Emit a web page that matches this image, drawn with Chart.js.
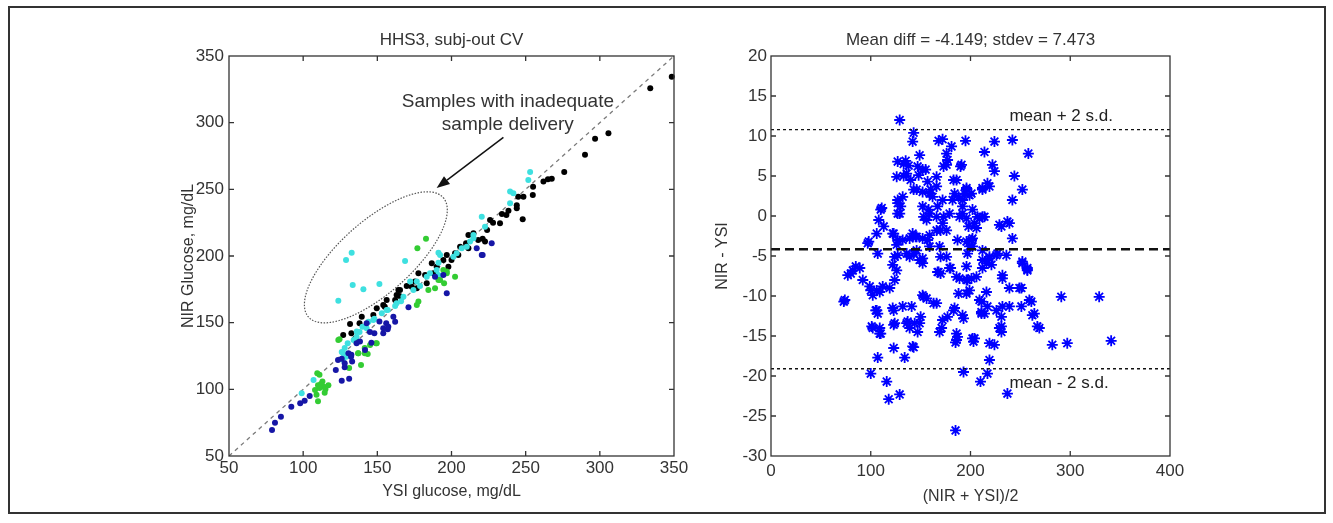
<!DOCTYPE html>
<html>
<head>
<meta charset="utf-8">
<script src="https://cdn.jsdelivr.net/npm/chart.js@4.4.1/dist/chart.umd.min.js"></script>
<style>
html,body{margin:0;padding:0;background:#fff;}
#wrap{position:relative;width:1333px;height:523px;overflow:hidden;background:#fff;}
#frame{position:absolute;left:8px;top:6px;width:1318px;height:508px;border:2px solid #333;box-sizing:border-box;}
#c1{position:absolute;left:0;top:0;}
#c2{position:absolute;left:700px;top:0;}
</style>
</head>
<body>
<div id="wrap">
<div id="frame"></div>
<canvas id="c1" width="700" height="523"></canvas>
<canvas id="c2" width="633" height="523"></canvas>
</div>
<script>
// ---------------- DATA ----------------
// Left panel: NIR glucose vs YSI glucose (mg/dL), one array per subject colour
const leftTitle = 'HHS3, subj-out CV';
const leftXLabel = 'YSI glucose, mg/dL';
const leftYLabel = 'NIR Glucose, mg/dL';
const leftRange = [50, 350];
const leftStep = 50;
const identityLine = [[50, 50], [350, 350]];

const blackPts = [
  [348.5,334.5],[334,325.8],[305.8,292],[296.8,288],[290,276],[276,263],[267.6,258],[265,257.5],[262,255.8],
  [255,252],[254.8,245.8],[245,244.5],[244,235.8],[248,227.5],[238.4,234],[237,230.8],[234,231.5],[232.7,224.5],
  [228,225],[226,227],[224,219.5],[221,213],[222.6,210.8],[218,212],[214.8,217],[211.4,215.8],[209.8,209.5],
  [211.4,205.8],[204.6,200.8],[205.8,207],[202.4,202],[196.8,200.8],[200,197],[194.5,197],[197.9,192],[190,192],
  [186.7,194.5],[187.8,187],[177.7,187],[183.3,179.5],[175.4,180.8],[173.2,177],[165.3,174.5],
  [131.6,149],[127,140.8],[139.5,154.5],[147.3,155.8],[149.6,160.8],[154,163.3],[156.3,167],[163,170.8],
  [164.2,174.5],[169.8,177.5],[176.6,175.8],[182.2,185.8],[138,149.5],[132.5,142],[135,138],[155,162],
  [165,170],[162,167],[248.5,244.5],[244,238]
];
const cyanPts = [
  [253,263],[251.8,257],[239.5,248.3],[241.7,247],[239.5,239.5],[220.4,229.5],[222.6,222],[214.8,215.8],
  [212.5,210.8],[206.9,205.8],[203.5,202],[192.3,200.8],[191.2,195],[190,189.5],[185.5,187],[183.3,184.5],
  [191.2,185.8],[176.6,180.8],[172.1,180.8],
  [132.7,202.5],[128.9,197],[168.7,196.3],[133.4,178.3],[140.6,175],[151.4,179],[123.7,166.5],
  [136.1,143.3],[142.8,145.8],[147.3,152],[156.3,159.5],[163,164.5],[167.6,169.5],[174.3,174.5],[178.8,177.5],
  [201.3,199.5],[210.3,207],[214.8,213.3],[191.2,202.5],
  [99,97],[107,107],[127,122],[127,127],[128,131],[130,134.5],[134,137],[136,139.5],[138,143],[140,147],
  [144,150.7],[148,153],[153,157],[157,159.5],[162,162.5],[166,166],[129,124.5],[126,128]
];
const greenPts = [
  [182.8,213],[177,205.8],[194.5,189.5],[196.8,187],[202.4,184.5],[192.3,182],[195,179.5],[184.4,174.5],
  [123.7,137],[149.6,134.5],[145.1,133.3],[137.2,127],[143.5,126.5],[177.7,165.8],[176.6,163.3],[188.9,175.8],
  [191.2,182],[196.8,188.3],
  [109.5,112],[111,111],[110,103],[113,105.8],[114,102],[111,101],[109,96],[110,91],[114.5,97.5],[117,103],
  [108,99.5],[131,116],[139,118.3],[137,127],[141.5,127],[149,134.5],[141.5,131],[124.5,137.5],[112,104],[115,100]
];
const bluePts = [
  [79,69.5],[81,75],[85,79.5],[92,87],[98,89.5],[101,91.5],[104.4,95],[126,106.5],[131,108],[122,114.5],
  [128,116.5],[128,119.5],[133,120.8],[132.5,126],[123.5,122],[126,123],[136,134.5],[146,135],[148,142],
  [154,142],[157,145],[156,149.5],[162,150.7],[171,161.5],[145,143],
  [151.4,150.8],[154,145.8],[157.4,147],[160.8,154.5],[142.8,149.5],[138.3,135.8],[141.7,129.5],[130.5,127],
  [132.3,124.5],[196.8,172],[194.5,185.8],[220.4,200.8],[227.1,209.5],[221,200.8],[217,205.8],[188.9,184.5]
];

// Right panel: Bland-Altman, mean of methods vs difference
const rightTitle = 'Mean diff = -4.149; stdev = 7.473';
const rightXLabel = '(NIR + YSI)/2';
const rightYLabel = 'NIR - YSI';
const rightXRange = [0, 400];
const rightYRange = [-30, 20];
const meanDiff = -4.149;
const stdevDiff = 7.473;
const baPoints = [
  [129,12.0],[143,10.4],[142,9.3],[168,9.4],[172,9.6],[181,8.7],[176,7.8],[195,9.4],[214,8.0],[224,9.3],[242,9.5],[258,7.8],
  [127,6.8],[133,6.5],[135,6.9],[149,7.6],[138,6.3],[147,6.2],[155,5.8],[133,5.0],[140,4.5],[148,5.1],[157,4.3],
  [160,3.3],[162,2.4],[152,3.0],[143,3.3],[127,2.0],[130,1.2],[127,0.3],[110,0.8],[108,-0.5],[113,-1.3],[98,-3.2],
  [107,-4.7],[123,-2.2],[127,-3.0],[142,-2.2],[145,-2.6],[153,-0.1],[158,0.8],[167,1.2],[173,-0.1],[170,-1.8],
  [157,-3.0],[143,-4.7],[127,-4.9],[152,-5.3],[170,-5.1],[180,-6.5],[168,-7.0],[187,-3.0],[192,0.3],[188,2.4],
  [183,4.5],[190,6.2],[173,6.2],[177,7.0],[198,-1.3],[197,-4.7],[80,-7.2],[85,-6.3],
  [222,6.4],[224,5.6],[244,5.0],[217,4.1],[212,3.5],[252,3.3],[196,3.3],[199,2.6],[242,2.0],[192,1.2],[189,-0.1],
  [196,-0.3],[209,-0.3],[214,-0.1],[229,-1.1],[237,-0.7],[242,-2.8],[202,-2.8],[206,-1.5],[199,-3.8],[212,-4.3],
  [219,-5.1],[226,-4.9],[236,-4.9],[252,-5.9],[257,-6.7],[216,-5.9],[232,-7.4],[196,-6.3],
  [136,5.3],[126,4.9],[166,4.9],[186,4.5],[196,3.5],[201,2.8],[184,2.8],[191,6.4],[176,6.4],[152,5.8],
  [111,1.0],[106,-2.2],[97,-3.4],[89,-6.5],[77,-7.4],[82,-6.8],[92,-8.0],[99,-8.8],[106,-9.3],[102,-9.9],[74,-10.5],
  [109,-9.5],[112,-8.8],[119,-9.0],[124,-8.0],[126,-6.8],[122,-6.1],[124,-5.1],[126,-3.6],[122,-2.2],[106,-11.8],
  [107,-12.2],[101,-13.8],[109,-14.0],[109,-14.7],[122,-11.5],[132,-11.3],[141,-11.3],[124,-13.4],[136,-13.4],
  [144,-13.4],[149,-13.4],[147,-14.5],[139,-14.0],[142,-16.3],[152,-9.9],[156,-10.3],[166,-10.9],[172,-13.0],
  [171,-14.0],[169,-14.5],[177,-12.6],[184,-11.5],[192,-12.4],[186,-14.7],[186,-15.5],[204,-15.3],[196,-9.7],
  [199,-9.3],[196,-8.0],[201,-7.8],[209,-10.5],[211,-12.0],[214,-12.2],[217,-11.3],[226,-11.8],[232,-11.3],
  [239,-11.3],[251,-11.3],[231,-12.6],[231,-13.8],[231,-14.5],[219,-15.9],[239,-9.0],[251,-9.0],[259,-10.5],
  [262,-12.4],[267,-13.8],[291,-10.1],[329,-10.1],[282,-16.1],[297,-15.9],[341,-15.6],[252,-5.7],[257,-6.5],
  [239,-0.9],[231,-1.3],
  [212,-5.5],[219,-5.3],[227,-4.7],[212,-6.5],[206,-7.6],[221,-6.1],[179,-6.5],[167,-7.0],[186,-7.6],[189,-7.8],
  [152,-5.9],[149,-5.5],[139,-5.1],[132,-3.0],[139,-2.8],[146,-2.6],[152,-2.8],[159,-2.4],[166,-1.8],[172,-0.9],
  [176,-1.8],[196,-3.2],[201,-3.0],[202,-3.8],[204,-0.9],[207,-0.1],[202,0.8],[212,-0.1],[192,2.0],[194,2.8],
  [176,-5.1],[169,-3.8],[159,-3.8],[146,-4.3],[136,-4.7],[129,0.3],[127,1.6],[132,2.4],[146,3.3],[159,2.8],
  [152,1.2],[159,0.3],[156,-0.5],[166,-0.1],[179,0.3],[182,2.0],[172,2.0],[166,3.7],[212,3.3],[219,3.7],
  [123,-16.5],[143,-16.4],[107,-17.7],[134,-17.7],[100,-19.7],[116,-20.7],[118,-22.9],[129,-22.3],[185,-15.8],
  [203,-15.7],[224,-16.1],[219,-18.0],[193,-19.5],[217,-19.7],[210,-20.7],[237,-22.2],[185,-26.8],
  [73,-10.7],[100,-9.3],[105,-11.8],[102,-14.0],[110,-14.7],[123,-11.8],[123,-13.6],[137,-13.2],[150,-12.6],
  [153,-10.1],[163,-10.9],[188,-9.7],[197,-8.0],[170,-7.2],[183,-11.8],[187,-15.1],[193,-12.8],[261,-10.7],
  [264,-12.2],[269,-14.0],[216,-9.5],[249,-9.0],[229,-14.0],[202,-15.3],[211,-10.7],[232,-7.8],[257,-6.8],[211,-12.2]
];

// ---------------- STYLE / HELPERS ----------------
const FONT = '"Liberation Sans", Arial, Helvetica, sans-serif';
const TXT = '#333333';
const toXY = arr => arr.map(p => ({x: p[0], y: p[1]}));

function axesPlugin(id, title) {
  return {
    id: id,
    afterDatasetsDraw(chart) {
      const {ctx, chartArea: a, scales} = chart;
      ctx.save();
      ctx.strokeStyle = '#333';
      ctx.lineWidth = 1.3;
      ctx.strokeRect(a.left, a.top, a.right - a.left, a.bottom - a.top);
      const tl = 5;
      ctx.beginPath();
      scales.x.ticks.forEach(t => {
        const p = scales.x.getPixelForValue(t.value);
        if (p <= a.left + 1 || p >= a.right - 1) return;
        ctx.moveTo(p, a.bottom); ctx.lineTo(p, a.bottom - tl);
        ctx.moveTo(p, a.top); ctx.lineTo(p, a.top + tl);
      });
      scales.y.ticks.forEach(t => {
        const p = scales.y.getPixelForValue(t.value);
        if (p <= a.top + 1 || p >= a.bottom - 1) return;
        ctx.moveTo(a.left, p); ctx.lineTo(a.left + tl, p);
        ctx.moveTo(a.right, p); ctx.lineTo(a.right - tl, p);
      });
      ctx.stroke();
      ctx.fillStyle = TXT;
      ctx.font = '17px ' + FONT;
      ctx.textAlign = 'center';
      ctx.textBaseline = 'middle';
      ctx.fillText(title, (a.left + a.right) / 2, 40);
      ctx.restore();
    }
  };
}

function scaleOpts(min, max, step, label, tickPad, fitSize, isX) {
  return {
    type: 'linear', min: min, max: max,
    ticks: {stepSize: step, font: {family: FONT, size: 17}, color: TXT, padding: tickPad, autoSkip: false, maxRotation: 0},
    grid: {display: false, drawTicks: false},
    border: {display: false},
    title: {display: true, text: label, font: {family: FONT, size: 16}, color: TXT, padding: 0},
    afterFit(s) { if (isX) s.height = fitSize; else s.width = fitSize; }
  };
}

// ---------------- LEFT CHART ----------------
const leftAnnot = {
  id: 'leftAnnot',
  afterDraw(chart) {
    const {ctx} = chart;
    const sx = chart.scales.x, sy = chart.scales.y;
    const P = (x, y) => [sx.getPixelForValue(x), sy.getPixelForValue(y)];
    ctx.save();
    // ellipse around outlier samples (data units)
    const c = [149, 199], u = [45.4, 44.8], v = [16.1, -20.2];
    ctx.beginPath();
    for (let i = 0; i <= 200; i++) {
      const t = i / 200 * Math.PI * 2;
      const q = P(c[0] + Math.cos(t) * u[0] + Math.sin(t) * v[0], c[1] + Math.cos(t) * u[1] + Math.sin(t) * v[1]);
      if (i === 0) ctx.moveTo(q[0], q[1]); else ctx.lineTo(q[0], q[1]);
    }
    ctx.setLineDash([1.5, 1.5]);
    ctx.strokeStyle = '#555';
    ctx.lineWidth = 1.2;
    ctx.stroke();
    ctx.setLineDash([]);
    // arrow
    const s = P(235, 289), e = P(190, 251);
    const ang = Math.atan2(e[1] - s[1], e[0] - s[0]);
    const hl = 13, hw = 5;
    const bx = e[0] - Math.cos(ang) * hl, by = e[1] - Math.sin(ang) * hl;
    ctx.strokeStyle = '#111';
    ctx.lineWidth = 1.5;
    ctx.beginPath(); ctx.moveTo(s[0], s[1]); ctx.lineTo(bx, by); ctx.stroke();
    ctx.fillStyle = '#111';
    ctx.beginPath();
    ctx.moveTo(e[0], e[1]);
    ctx.lineTo(bx + Math.sin(ang) * hw, by - Math.cos(ang) * hw);
    ctx.lineTo(bx - Math.sin(ang) * hw, by + Math.cos(ang) * hw);
    ctx.closePath(); ctx.fill();
    // text
    ctx.fillStyle = TXT;
    ctx.font = '19px ' + FONT;
    ctx.textAlign = 'center';
    ctx.textBaseline = 'middle';
    let p1 = P(238, 316), p2 = P(238, 298.5);
    ctx.fillText('Samples with inadequate', p1[0], p1[1]);
    ctx.fillText('sample delivery', p2[0], p2[1]);
    ctx.restore();
  }
};

function dotSet(pts, color) {
  return {data: toXY(pts), backgroundColor: color, borderColor: color, borderWidth: 0,
          pointRadius: 3, pointStyle: 'circle', clip: false, order: 1};
}

new Chart(document.getElementById('c1'), {
  type: 'scatter',
  data: {
    datasets: [
      {data: toXY(identityLine), showLine: true, borderColor: '#7a7a7a', borderWidth: 1.3,
       borderDash: [4, 4], pointRadius: 0, order: 5},
      dotSet(bluePts, '#1616a6'),
      dotSet(greenPts, '#33cc33'),
      dotSet(cyanPts, '#3ee0e0'),
      dotSet(blackPts, '#000000')
    ]
  },
  options: {
    responsive: false, animation: false, events: [],
    layout: {padding: {left: 179, top: 56, right: 26, bottom: 22}},
    plugins: {legend: {display: false}, tooltip: {enabled: false}},
    scales: {
      x: scaleOpts(leftRange[0], leftRange[1], leftStep, leftXLabel, 2, 45, true),
      y: scaleOpts(leftRange[0], leftRange[1], leftStep, leftYLabel, 5, 50, false)
    }
  },
  plugins: [axesPlugin('axL', leftTitle), leftAnnot]
});

// ---------------- RIGHT CHART ----------------
const upperLim = meanDiff + 2 * stdevDiff;
const lowerLim = meanDiff - 2 * stdevDiff;

const rightAnnot = {
  id: 'rightAnnot',
  afterDraw(chart) {
    const {ctx} = chart;
    const sx = chart.scales.x, sy = chart.scales.y;
    ctx.save();
    ctx.fillStyle = '#222';
    ctx.font = '17px ' + FONT;
    ctx.textAlign = 'left';
    ctx.textBaseline = 'middle';
    ctx.fillText('mean + 2 s.d.', sx.getPixelForValue(239), sy.getPixelForValue(12.4));
    ctx.fillText('mean - 2 s.d.', sx.getPixelForValue(239), sy.getPixelForValue(-20.9));
    ctx.restore();
  }
};

function hLine(y, width, dash) {
  return {data: [{x: rightXRange[0], y: y}, {x: rightXRange[1], y: y}], showLine: true,
          borderColor: '#111', borderWidth: width, borderDash: dash, pointRadius: 0, order: 0};
}

new Chart(document.getElementById('c2'), {
  type: 'scatter',
  data: {
    datasets: [
      {data: toXY(baPoints), pointStyle: 'star', pointRadius: 5.5, borderColor: '#0000ff',
       backgroundColor: '#0000ff', borderWidth: 1.8, clip: false, order: 2},
      hLine(upperLim, 1.3, [3, 3]),
      hLine(meanDiff, 2.6, [9, 5]),
      hLine(lowerLim, 1.3, [3, 3])
    ]
  },
  options: {
    responsive: false, animation: false, events: [],
    layout: {padding: {left: 13, top: 56, right: 163, bottom: 17}},
    plugins: {legend: {display: false}, tooltip: {enabled: false}},
    scales: {
      x: scaleOpts(rightXRange[0], rightXRange[1], 100, rightXLabel, 5, 50, true),
      y: scaleOpts(rightYRange[0], rightYRange[1], 5, rightYLabel, 4, 58, false)
    }
  },
  plugins: [axesPlugin('axR', rightTitle), rightAnnot]
});
</script>
</body>
</html>
